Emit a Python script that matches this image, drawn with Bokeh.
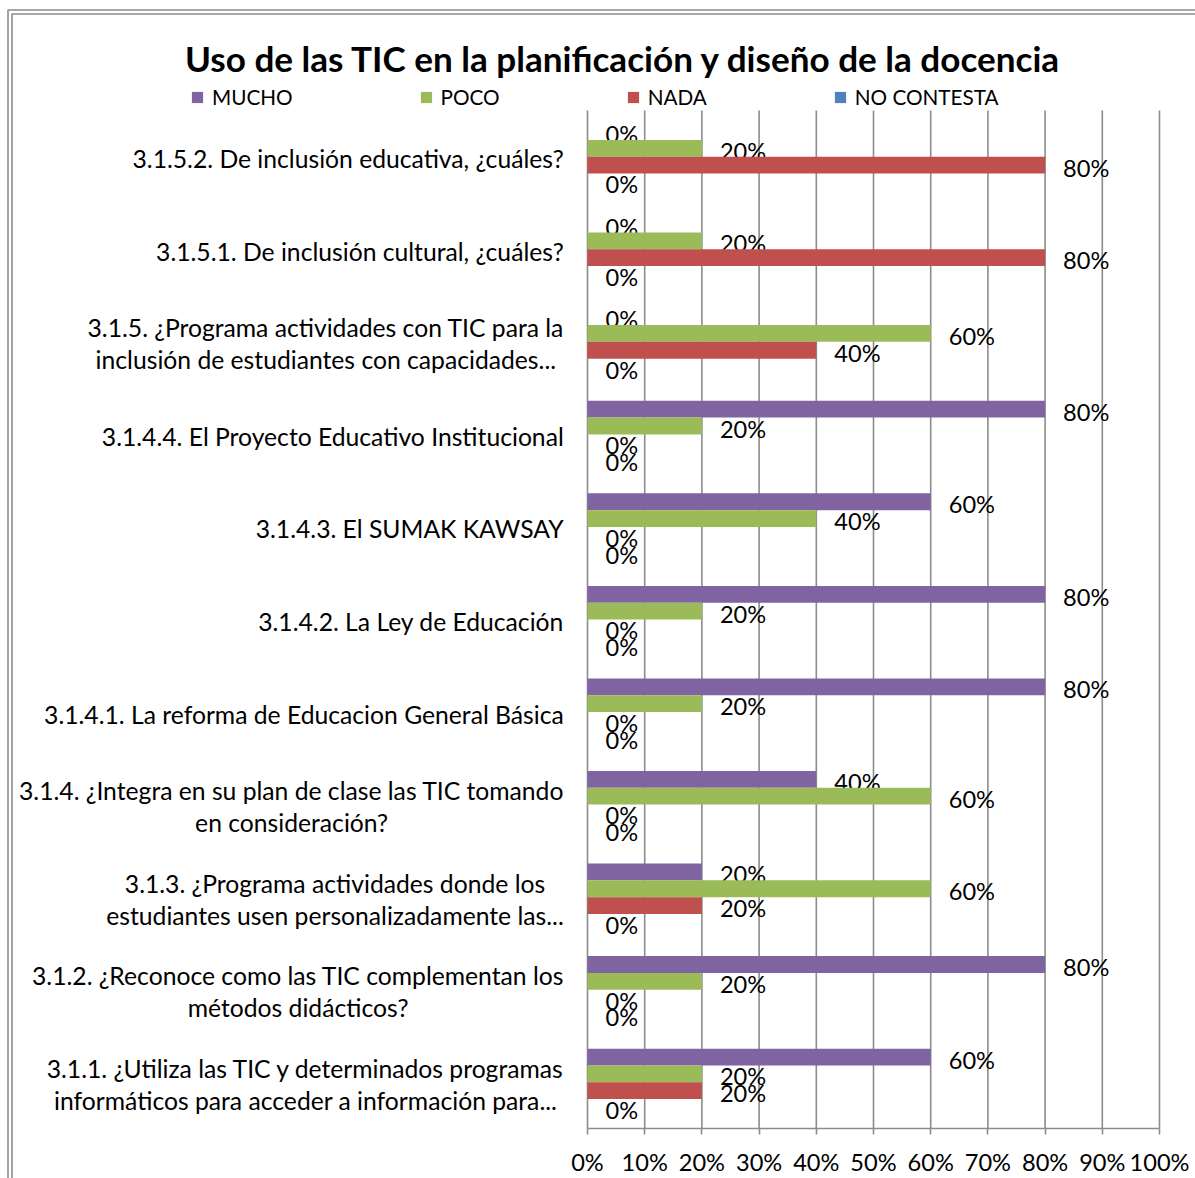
import glob
import os

from bokeh.plotting import figure
from bokeh.models import ColumnDataSource, Range1d, FixedTicker, Legend, LegendItem, LinearAxis
from bokeh.core.properties import value
from bokeh.embed import file_html
from bokeh.resources import INLINE

# ---------------- data ----------------
title_text = "Uso de las TIC en la planificación y diseño de la docencia"

# categories as listed from top to bottom in the chart
categories = [
    "3.1.5.2. De inclusión educativa, ¿cuáles?",
    "3.1.5.1. De inclusión cultural, ¿cuáles?",
    "3.1.5. ¿Programa actividades con TIC para la\ninclusión de estudiantes con capacidades...",
    "3.1.4.4. El Proyecto Educativo Institucional",
    "3.1.4.3. El SUMAK KAWSAY",
    "3.1.4.2. La Ley de Educación",
    "3.1.4.1. La reforma de Educacion General Básica",
    "3.1.4. ¿Integra en su plan de clase las TIC tomando\nen consideración?",
    "3.1.3. ¿Programa actividades donde los\nestudiantes usen personalizadamente las...",
    "3.1.2. ¿Reconoce como las TIC complementan los\nmétodos didácticos?",
    "3.1.1. ¿Utiliza las TIC y determinados programas\ninformáticos para acceder a información para...",
]
series_names = ["MUCHO", "POCO", "NADA", "NO CONTESTA"]
mucho = [0, 0, 0, 80, 60, 80, 80, 40, 20, 80, 60]
poco = [20, 20, 60, 20, 40, 20, 20, 60, 60, 20, 20]
nada = [80, 80, 40, 0, 0, 0, 0, 0, 20, 0, 20]
no_contesta = [0, 0, 0, 0, 0, 0, 0, 0, 0, 0, 0]
series_values = [mucho, poco, nada, no_contesta]
series_colors = ["#8064A2", "#9BBB59", "#C0504D", "#4F81BD"]
x_ticks = [0, 10, 20, 30, 40, 50, 60, 70, 80, 90, 100]

# ---------------- layout ----------------
W, H = 1195, 1178
PLOT_BOTTOM = 1128      # canvas y of the bottom of the plot area
PLOT_TOP = 110          # canvas y of the top of the plot area
X0 = 587                # canvas x of 0 %
PPX = 5.72              # pixels per percent
N = len(categories)
PPY = (PLOT_BOTTOM - PLOT_TOP) / N
BAR_PX = 16.8
GRID_COL = "#8c8c8c"
FONT = "Lato"


def xd(cx):
    return (cx - X0) / PPX


def yd(cy):
    return (PLOT_BOTTOM - cy) / PPY


# ---------------- font measuring ----------------
def find_font(patterns):
    roots = ["/usr/share/fonts", "/usr/local/share/fonts",
             os.path.expanduser("~/.fonts"), os.path.expanduser("~/.local/share/fonts")]
    for pat in patterns:
        for r in roots:
            hits = glob.glob(os.path.join(r, "**", pat), recursive=True)
            if hits:
                return sorted(hits)[0]
    return None


HAVE = False
try:
    from PIL import ImageFont
    REG = find_font(["Lato-Regular.ttf", "Lato-Regular.otf"])
    BOLD = find_font(["Lato-Bold.ttf", "Lato-Bold.otf"])
    if REG and BOLD:
        _F = {False: ImageFont.truetype(REG, 100), True: ImageFont.truetype(BOLD, 100)}
        HAVE = True
except Exception:
    HAVE = False


def text_w(s, size, bold=False):
    if HAVE:
        return _F[bold].getlength(s) * size / 100.0
    return len(s) * size * (0.56 if bold else 0.5)


def fit(texts, target, bold=False, fallback=20):
    w1 = sum(text_w(t, 1.0, bold) for t in texts)
    if w1 <= 0:
        return fallback
    return target / w1


title_size = fit([title_text], 874, bold=True)
cat_size = fit([categories[0], categories[1], categories[3], categories[4], categories[5], categories[6]],
               436 + 413 + 461 + 294 + 304 + 523)
leg_size = fit(series_names, 82 + 57 + 60 + 144)
num_size = fit(["80%", "0%"], 47 + 32)

# ---------------- figure ----------------
p = figure(width=W, height=H, output_backend="svg", toolbar_location=None,
           x_range=Range1d(xd(0), xd(W)), y_range=Range1d(yd(H), yd(0)),
           x_axis_type=None, y_axis_type=None,
           min_border_left=0, min_border_right=0, min_border_top=0, min_border_bottom=0)
p.outline_line_color = None
p.background_fill_color = "white"
p.border_fill_color = "white"

# chart border (double gray line)
for off_x, off_y in ((7.5, 9.5), (11.5, 13.5)):
    p.quad(left=[xd(off_x)], right=[xd(W + 50)], top=[yd(off_y)], bottom=[yd(H + 50)],
           fill_color=None, line_color=GRID_COL, line_width=1.6)

# grid lines and value axis line
p.segment(x0=x_ticks, y0=[0] * len(x_ticks), x1=x_ticks, y1=[N] * len(x_ticks),
          line_color=GRID_COL, line_width=1.6)

# bars
bar_h = BAR_PX / PPY
renderers = []
for j, (name, vals, col) in enumerate(zip(series_names, series_values, series_colors)):
    ys, xs, labs, lx, ly = [], [], [], [], []
    for i, v in enumerate(vals):
        k = N - 1 - i
        yc = k + 0.5 + (1.5 - j) * bar_h
        ys.append(yc)
        xs.append(v)
        labs.append(f"{v}%")
        lx.append(v + 18 / PPX)
        ly.append(yc - 2.5 / PPY)
    src = ColumnDataSource(dict(y=ys, right=xs, lx=lx, ly=ly, lab=labs))
    r = p.hbar(y="y", left=0, right="right", height=bar_h, source=src,
               fill_color=col, line_color=None)
    renderers.append(r)
    p.text(x="lx", y="ly", text="lab", source=src, text_font=value(FONT),
           text_font_size=f"{num_size:.1f}px", text_align="left", text_baseline="middle",
           text_color="black")

# category labels (centered blocks, right edge near the axis)
R_EDGE = 563
LINE_GAP = 32
cx, cy, ct = [], [], []
for i, lab in enumerate(categories):
    k = N - 1 - i
    lines = lab.split("\n")
    wmax = max(text_w(ln, cat_size) for ln in lines)
    xc = xd(R_EDGE - wmax / 2)
    nl = len(lines)
    for li, ln in enumerate(lines):
        off_px = 2 + (li - (nl - 1) / 2) * LINE_GAP
        cx.append(xc)
        cy.append(k + 0.5 - off_px / PPY)
        ct.append(ln)
p.text(x=cx, y=cy, text=ct, text_font=value(FONT), text_font_size=f"{cat_size:.1f}px",
       text_align="center", text_baseline="middle", text_color="black")

# title
p.text(x=[xd(623)], y=[yd(57)], text=[title_text], text_font=value(FONT),
       text_font_size=f"{title_size:.1f}px", text_font_style="bold",
       text_align="center", text_baseline="middle", text_color="black")

# legend
pitches = [230, 205, 207]
gw, gs = 14, 8
spacing = sum(pitches[q] - gw - gs - text_w(series_names[q], leg_size) for q in range(3)) / 3
legend = Legend(items=[LegendItem(label=s, renderers=[r]) for s, r in zip(series_names, renderers)],
                orientation="horizontal", location=(190, H - 97 - 12),
                padding=0, margin=0, spacing=int(round(spacing)),
                glyph_width=gw, glyph_height=gw, label_standoff=gs, label_height=24,
                border_line_color=None, background_fill_alpha=0,
                label_text_font=FONT, label_text_font_size=f"{leg_size:.1f}px",
                label_text_color="black", label_text_baseline="middle")
p.add_layout(legend)

# value axis (fixed at 0 inside the canvas)
xaxis = LinearAxis(ticker=FixedTicker(ticks=x_ticks), bounds=(0, 100), fixed_location=0,
                   major_label_overrides={t: f"{t}%" for t in x_ticks})
xaxis.axis_line_color = GRID_COL
xaxis.axis_line_width = 1.6
xaxis.major_tick_line_color = GRID_COL
xaxis.major_tick_line_width = 1.6
xaxis.major_tick_out = 6
xaxis.major_tick_in = 0
xaxis.minor_tick_out = 0
xaxis.minor_tick_in = 0
xaxis.major_label_standoff = 13
xaxis.major_label_text_font = FONT
xaxis.major_label_text_font_size = f"{num_size:.1f}px"
xaxis.major_label_text_color = "black"
p.add_layout(xaxis, "below")

open("out.html", "w").write(file_html(p, INLINE))
